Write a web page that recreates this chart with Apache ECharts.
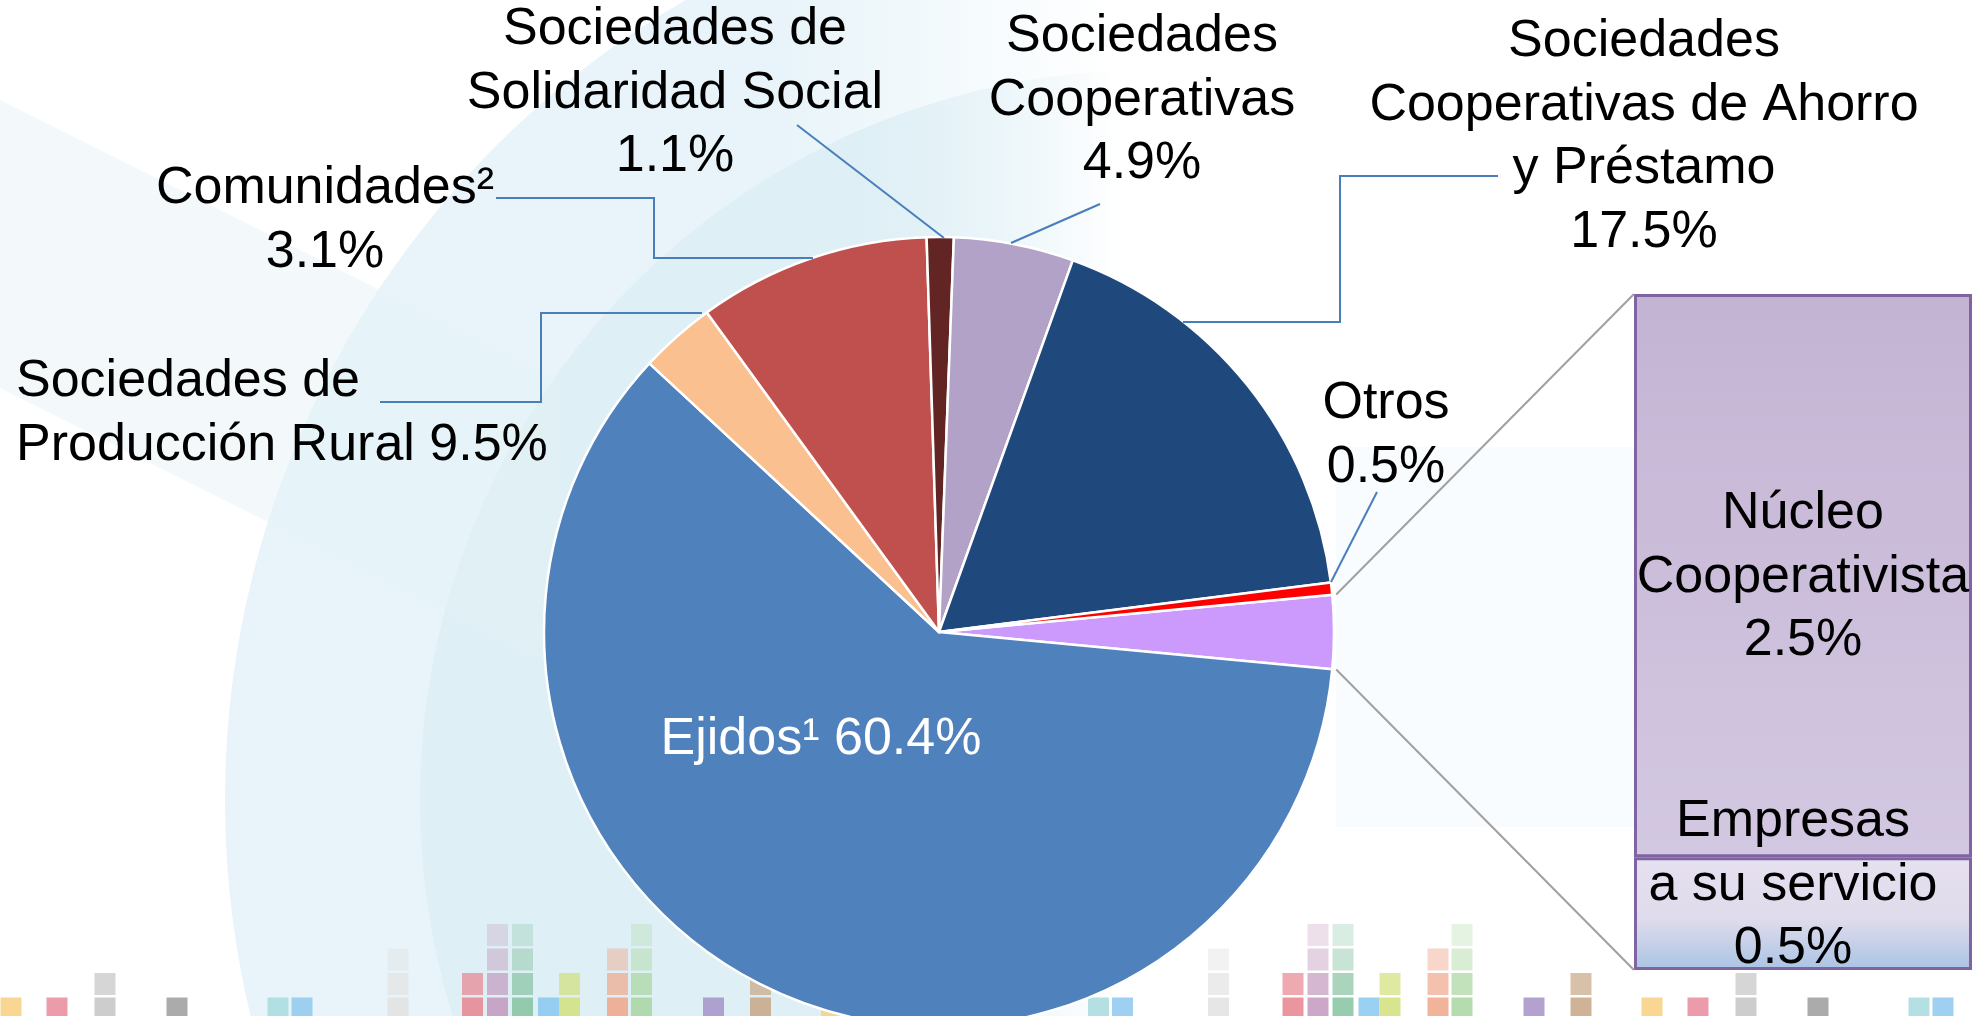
<!DOCTYPE html>
<html>
<head>
<meta charset="utf-8">
<script src="https://cdn.jsdelivr.net/npm/echarts@6/dist/echarts.min.js"></script>
<style>
html,body{margin:0;padding:0;background:#fff;}
#main{width:1988px;height:1016px;}
</style>
</head>
<body>
<div id="main"></div>
<script>
// ---------- DATA ----------
const pieNames = ['Núcleo Cooperativista y empresas a su servicio', 'Ejidos¹', 'Comunidades²', 'Sociedades de Producción Rural', 'Sociedades de Solidaridad Social', 'Sociedades Cooperativas', 'Sociedades Cooperativas de Ahorro y Préstamo', 'Otros'];
const pieValues = [3.0, 60.4, 3.1, 9.5, 1.1, 4.9, 17.5, 0.5];
const pieLabelText = ['', 'Ejidos¹', 'Comunidades²', 'Sociedades de\nProducción Rural', 'Sociedades de\nSolidaridad Social', 'Sociedades\nCooperativas', 'Sociedades\nCooperativas de Ahorro\ny Préstamo', 'Otros'];
const pieLabelSep = ['', ' ', '\n', ' ', '\n', '\n', '\n', '\n'];
const barCategory = ['Núcleo Cooperativista y empresas a su servicio'];
const barNames = ['Empresas a su servicio', 'Núcleo Cooperativista'];
const barValues = [0.5, 2.5];
const barLabelText = ['Empresas\na su servicio', 'Núcleo\nCooperativista'];

// ---------- STYLE / LAYOUT ----------
const FONT = '"Liberation Sans", Arial, sans-serif';
const FS = 52, LH = 63.5;
const pieColors = ['#cc9afc', '#4f81bd', '#fac090', '#c0504d', '#632523', '#b3a2c7', '#1f497d', '#ff0000'];
const PIE_CX = 939, PIE_CY = 632, PIE_R = 395, START = 5.4;
const GRID = {left: 1634, top: 294, width: 338, height: 676};
const pieLabelPos = {
  1: {x: 821, y: 708, align: 'center'},
  2: {x: 325, y: 157, align: 'center'},
  3: {x: 16, y: 350, align: 'left'},
  4: {x: 675, y: -2, align: 'center'},
  5: {x: 1142, y: 5, align: 'center'},
  6: {x: 1644, y: 10, align: 'center'},
  7: {x: 1386, y: 372, align: 'center'}
};
const barLabelPos = {0: {x: 1793, y: 790}, 1: {x: 1803, y: 482}};

const leaderLines = [
  [[797,125],[944,238]],
  [[496,198],[654,198],[654,258],[813,258]],
  [[380,402],[541,402],[541,313],[702,313]],
  [[1100,204],[1011,243]],
  [[1498,176],[1340,176],[1340,322],[1183,322]],
  [[1377,492],[1331,582]]
];

// connector lines from the combined slice to the bar
const pieSum = pieValues.reduce((a,b)=>a+b,0);
const barTotal = barValues.reduce((a,b)=>a+b,0);
const a1 = START * Math.PI/180;
const a2 = (START - 360*pieValues[0]/pieSum) * Math.PI/180;
const rC = PIE_R + 4;
const conn = [
  [[PIE_CX + rC*Math.cos(a1), PIE_CY - rC*Math.sin(a1)], [GRID.left, GRID.top]],
  [[PIE_CX + rC*Math.cos(a2), PIE_CY - rC*Math.sin(a2)], [GRID.left, GRID.top + GRID.height]]
];

// decorative background mosaic (pattern repeats)
const deco = [
  [0,'#e8848e',3],[25,'#c398bd',1],[50,'#86c3a0',1],[76,'#88c8ee',4],[97,'#d2e07a',3],
  [145,'#f0a68a',2],[169,'#a8d6a0',1],[241,'#a692c8',4],[288,'#c8a684',3],[359,'#f8d080',4],
  [405,'#e88a9a',4],[453,'#c4c4c4',3],[525,'#9c9c9c',4],[626,'#a8dade',4],[650,'#8ec8ee',4],[746,'#e2e2e2',2]
];
const rowTop = [924, 948.5, 973, 997.5];
const rowOp = [0.3, 0.45, 0.7, 0.85];
function fadeH(c) {
  return new echarts.graphic.LinearGradient(0, 0, 1, 0, [
    {offset: 0, color: 'rgba(' + c + ',1)'},
    {offset: 0.3, color: 'rgba(' + c + ',1)'},
    {offset: 0.48, color: 'rgba(' + c + ',0)'},
    {offset: 1, color: 'rgba(' + c + ',0)'}
  ]);
}
const graphics = [];
graphics.push({type:'circle', z:0, silent:true, shape:{cx:1150, cy:800, r:925}, style:{fill: fadeH('232,244,249')}});
graphics.push({type:'circle', z:0, silent:true, shape:{cx:1150, cy:800, r:730}, style:{fill: fadeH('222,239,245')}});
graphics.push({type:'polygon', z:0, silent:true, shape:{points:[[0,100],[0,388],[560,668],[560,380]]}, style:{fill:'#e4f2f7', opacity:0.45}});
graphics.push({type:'rect', z:0, silent:true, shape:{x:1336, y:447, width:300, height:380}, style:{fill:'#f8fcfe'}});
[-358.5, 462, 1282.5].forEach(base => {
  deco.forEach(d => {
    for (let r = d[2]; r <= 4; r++) {
      graphics.push({type:'rect', z:1, silent:true, shape:{x: base + d[0], y: rowTop[r-1], width: 21, height: 22}, style:{fill: d[1], opacity: rowOp[r-1]}});
    }
  });
});
leaderLines.forEach(pts => graphics.push({type:'polyline', z:10, silent:true, shape:{points:pts}, style:{stroke:'#4a7ebb', lineWidth:2, fill:null}}));
conn.forEach(pts => graphics.push({type:'polyline', z:10, silent:true, shape:{points:pts}, style:{stroke:'#a0a0a0', lineWidth:2, fill:null}}));

const chart = echarts.init(document.getElementById('main'), null, {renderer:'canvas'});
chart.setOption({
  animation: false,
  backgroundColor: '#ffffff',
  graphic: {elements: graphics},
  grid: {left: GRID.left, top: GRID.top, width: GRID.width, height: GRID.height, containLabel: false},
  xAxis: {type:'category', data: barCategory, show:false},
  yAxis: {type:'value', min:0, max: barTotal, show:false},
  series: [
    {
      type: 'pie', center: [PIE_CX, PIE_CY], radius: PIE_R, startAngle: START, clockwise: true,
      avoidLabelOverlap: false, silent: true,
      itemStyle: {borderColor:'#ffffff', borderWidth:2.5},
      label: {
        show: true, position: 'inside', overflow: 'none',
        fontFamily: FONT, fontSize: FS, lineHeight: LH, color: '#000',
        formatter: p => pieLabelText[p.dataIndex] + pieLabelSep[p.dataIndex] + pieValues[p.dataIndex].toFixed(1) + '%'
      },
      labelLine: {show:false},
      labelLayout: p => {
        const L = pieLabelPos[p.dataIndex];
        if (!L) return {};
        return {x: L.x, y: L.y, align: L.align, verticalAlign: 'top', hideOverlap: false, moveOverlap: null};
      },
      data: pieNames.map((n, i) => ({
        name: n, value: pieValues[i], itemStyle: {color: pieColors[i]},
        label: i === 0 ? {show:false} : (i === 1 ? {color:'#ffffff'} : {})
      }))
    },
    {
      type: 'bar', name: barNames[0], stack: 'zoom', barWidth: '100%', silent: true, z: 3,
      data: [barValues[0]],
      itemStyle: {
        borderColor:'#8064a2', borderWidth:3,
        color: new echarts.graphic.LinearGradient(0,0,0,1,[{offset:0,color:'#e6e0ef'},{offset:0.55,color:'#e0dbec'},{offset:1,color:'#a9c4e4'}])
      },
      label: {show:true, position:'inside', fontFamily: FONT, fontSize: FS, lineHeight: LH, color:'#000', overflow:'none',
        formatter: () => barLabelText[0] + '\n' + barValues[0].toFixed(1) + '%'},
      labelLayout: () => ({x: barLabelPos[0].x, y: barLabelPos[0].y, align:'center', verticalAlign:'top'})
    },
    {
      type: 'bar', name: barNames[1], stack: 'zoom', barWidth: '100%', silent: true, z: 3,
      data: [barValues[1]],
      itemStyle: {
        borderColor:'#8064a2', borderWidth:3,
        color: new echarts.graphic.LinearGradient(0,0,0,1,[{offset:0,color:'#c4b4d4'},{offset:1,color:'#d3c8e1'}])
      },
      label: {show:true, position:'inside', fontFamily: FONT, fontSize: FS, lineHeight: LH, color:'#000', overflow:'none',
        formatter: () => barLabelText[1] + '\n' + barValues[1].toFixed(1) + '%'},
      labelLayout: () => ({x: barLabelPos[1].x, y: barLabelPos[1].y, align:'center', verticalAlign:'top'})
    }
  ]
});
</script>
</body>
</html>
